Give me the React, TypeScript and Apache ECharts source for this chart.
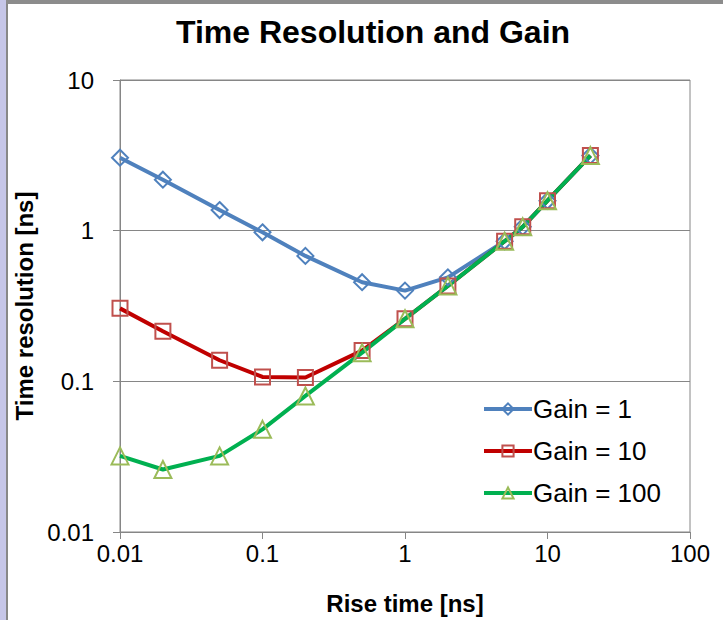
import React, { useEffect, useRef } from "react";
import * as echarts from "echarts";

const riseTimes = [0.01, 0.02, 0.05, 0.1, 0.2, 0.5, 1, 2, 5, 6.7, 10, 20];
const gain1 = [3.05, 2.18, 1.37, 0.975, 0.68, 0.455, 0.4, 0.49, 0.85, 1.06, 1.58, 3.15];
const gain10 = [0.305, 0.215, 0.138, 0.107, 0.106, 0.16, 0.26, 0.43, 0.85, 1.06, 1.58, 3.15];
const gain100 = [0.032, 0.026, 0.032, 0.048, 0.08, 0.155, 0.26, 0.43, 0.85, 1.06, 1.58, 3.15];
const seriesNames = ["Gain = 1", "Gain = 10", "Gain = 100"];
const xTickLabels = ["0.01", "0.1", "1", "10", "100"];
const yTickLabels = ["0.01", "0.1", "1", "10"];

const FONT = "'Liberation Sans', Arial, sans-serif";

function fmt(v: number, labels: string[]) {
  const s = labels.find((l) => Math.abs(parseFloat(l) - v) / v < 1e-6);
  return s ?? "";
}

export default function App() {
  const ref = useRef<HTMLDivElement>(null);
  useEffect(() => {
    if (!ref.current) return;
    const chart = echarts.init(ref.current, undefined, { renderer: "svg" });
    const mk = (name: string, ys: number[], line: string, marker: string, symbol: string, size: number) => ({
      name,
      type: "line",
      data: riseTimes.map((x, i) => [x, ys[i]]),
      symbol,
      symbolSize: size,
      showAllSymbol: true,
      lineStyle: { color: line, width: 4 },
      itemStyle: { color: "rgba(255,255,255,0)", borderColor: marker, borderWidth: 2 },
      emphasis: { disabled: true },
    });
    chart.setOption({
      animation: false,
      backgroundColor: "#ffffff",
      textStyle: { fontFamily: FONT },
      title: {
        text: "Time Resolution and Gain",
        left: 368,
        textAlign: "center",
        top: 11,
        textStyle: { fontFamily: FONT, fontSize: 32, fontWeight: "bold", color: "#000" },
      },
      grid: {
        left: 120,
        right: 33,
        top: 80,
        bottom: 87,
        show: true,
        borderColor: "#868686",
        borderWidth: 1,
        backgroundColor: "transparent",
      },
      legend: {
        orient: "vertical",
        left: 477,
        top: 391,
        itemWidth: 48,
        itemHeight: 14,
        itemGap: 16,
        data: seriesNames,
        lineStyle: { width: 4 },
        textStyle: { fontFamily: FONT, fontSize: 26, color: "#000", padding: [0, 0, 0, -4] },
      },
      xAxis: {
        type: "log",
        logBase: 10,
        min: 0.01,
        max: 100,
        name: "Rise time [ns]",
        nameLocation: "middle",
        nameGap: 59,
        nameTextStyle: { fontFamily: FONT, fontSize: 24, fontWeight: "bold", color: "#000" },
        axisLine: { show: true, lineStyle: { color: "#868686", width: 1 } },
        axisTick: { show: true, inside: false, length: 7, lineStyle: { color: "#868686" } },
        minorTick: { show: false },
        splitLine: { show: false },
        axisLabel: {
          fontFamily: FONT,
          fontSize: 24,
          color: "#000",
          margin: 9,
          formatter: (v: number) => fmt(v, xTickLabels),
        },
      },
      yAxis: {
        type: "log",
        logBase: 10,
        min: 0.01,
        max: 10,
        name: "Time resolution [ns]",
        nameLocation: "middle",
        nameGap: 78,
        nameTextStyle: { fontFamily: FONT, fontSize: 24, fontWeight: "bold", color: "#000" },
        axisLine: { show: true, lineStyle: { color: "#868686", width: 1 } },
        axisTick: { show: true, inside: false, length: 7, lineStyle: { color: "#868686" } },
        minorTick: { show: false },
        splitLine: { show: true, lineStyle: { color: "#868686", width: 1 } },
        axisLabel: {
          fontFamily: FONT,
          fontSize: 24,
          color: "#000",
          margin: 26,
          formatter: (v: number) => fmt(v, yTickLabels),
        },
      },
      graphic: [
        { type: "rect", left: 0, top: 0, shape: { x: 0, y: 0, width: 6, height: 620 }, style: { fill: "#c6c6e8" }, z: 100 },
        { type: "rect", left: 6, top: 0, shape: { x: 0, y: 0, width: 2, height: 620 }, style: { fill: "#888888" }, z: 100 },
        { type: "rect", left: 6, top: 0, shape: { x: 0, y: 0, width: 717, height: 4 }, style: { fill: "#8c8c8c" }, z: 100 },
      ],
      series: [
        mk(seriesNames[0], gain1, "#4F81BD", "#4F81BD", "diamond", 16),
        mk(seriesNames[1], gain10, "#C00000", "#C0504D", "rect", 15),
        mk(seriesNames[2], gain100, "#00B050", "#9BBB59", "triangle", 17),
      ],
    });
    return () => chart.dispose();
  }, []);
  return (
    <div
      ref={ref}
      style={{ position: "absolute", left: 0, top: 0, width: 723, height: 620, background: "#fff" }}
    />
  );
}
